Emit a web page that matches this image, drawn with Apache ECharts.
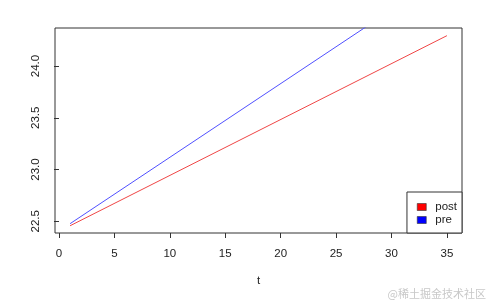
<!DOCTYPE html>
<html>
<head>
<meta charset="utf-8">
<script src="https://cdn.jsdelivr.net/npm/echarts@6/dist/echarts.min.js"></script>
<style>
html,body{margin:0;padding:0;background:#fff;}
#c{width:490px;height:302px;}
</style>
</head>
<body>
<div id="c"></div>
<script>
// data
const seriesNames = ['post', 'pre'];
const postT = [1, 35];
const postValues = [22.457, 24.293];
const preT = [1, 35];
const preValues = [22.477, 24.898];
const xTicks = [0, 5, 10, 15, 20, 25, 30, 35];
const yTicks = [22.5, 23.0, 23.5, 24.0];
const xRange = [-0.36, 36.36];
const yRange = [22.387, 24.367];
const xTitle = 't';
const watermark = '@稀土掘金技术社区';

const font = 'Liberation Sans, Arial, Helvetica, sans-serif';
const chart = echarts.init(document.getElementById('c'), null, {renderer: 'canvas'});
chart.setOption({
  animation: false,
  backgroundColor: '#fff',
  textStyle: {fontFamily: font},
  grid: {left: 55, top: 28, right: 28, bottom: 69, show: true, borderColor: '#333', borderWidth: 1, backgroundColor: 'transparent'},
  xAxis: {
    type: 'value', min: xRange[0], max: xRange[1],
    name: xTitle, nameLocation: 'middle', nameGap: 42,
    nameTextStyle: {color: '#222', fontSize: 11.5, fontFamily: font},
    axisLine: {show: false},
    axisTick: {show: true, length: 5, customValues: xTicks, lineStyle: {color: '#333'}},
    axisLabel: {customValues: xTicks, margin: 15, color: '#222', fontSize: 11.5, fontFamily: font},
    splitLine: {show: false}
  },
  yAxis: {
    type: 'value', min: yRange[0], max: yRange[1],
    axisLine: {show: false},
    axisTick: {show: true, length: 5, customValues: yTicks, lineStyle: {color: '#333'}},
    axisLabel: {customValues: yTicks, rotate: 90, margin: 13, color: '#222', fontSize: 11.5, fontFamily: font,
      formatter: v => v.toFixed(1)},
    splitLine: {show: false}
  },
  legend: {
    orient: 'vertical', right: 28, bottom: 69,
    data: [
      {name: seriesNames[0], icon: 'rect', itemStyle: {color: '#ff0000', borderColor: '#333', borderWidth: 0.6}},
      {name: seriesNames[1], icon: 'rect', itemStyle: {color: '#0000ff', borderColor: '#333', borderWidth: 0.6}}
    ],
    itemWidth: 9, itemHeight: 7, itemGap: 1,
    padding: [9, 5, 7, 10],
    borderColor: '#333', borderWidth: 1, backgroundColor: '#fff',
    textStyle: {color: '#222', fontSize: 11.5, fontFamily: font, padding: [0, 0, 0, 4]},
    z: 10
  },
  graphic: [{
    type: 'text', right: 4, bottom: 3,
    style: {text: watermark, fill: '#c8c8c8', fontSize: 11, fontFamily: 'Noto Sans CJK SC, sans-serif'}
  }],
  series: [
    {name: seriesNames[0], type: 'line', data: postT.map((t, i) => [t, postValues[i]]), showSymbol: false, clip: true,
      lineStyle: {color: '#f04646', width: 1}, itemStyle: {color: '#ff0000'}},
    {name: seriesNames[1], type: 'line', data: preT.map((t, i) => [t, preValues[i]]), showSymbol: false, clip: true,
      lineStyle: {color: '#5050ff', width: 1}, itemStyle: {color: '#0000ff'}}
  ]
});
</script>
</body>
</html>
